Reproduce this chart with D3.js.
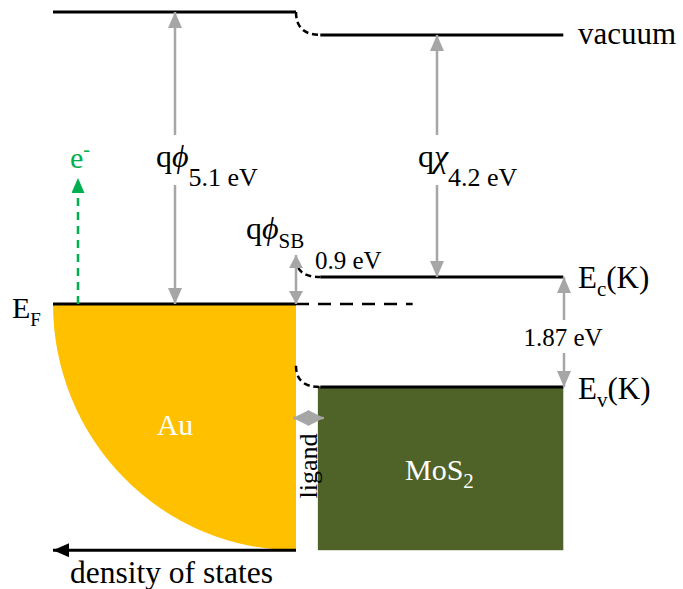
<!DOCTYPE html>
<html>
<head>
<meta charset="utf-8">
<script src="https://cdn.jsdelivr.net/npm/d3@7"></script>
<style>
  body { margin: 0; background: #fff; }
  text { font-family: "Liberation Serif", "Times New Roman", serif; }
</style>
</head>
<body>
<svg id="canvas"></svg>
<script>
const W = 683, H = 589

// energy levels (eV, relative to Au vacuum level; schematic)
const levelNames = ['vacAu', 'vacMoS2', 'bendEc', 'Ec', 'EF', 'bendEv', 'Ev', 'bottom']
const levelValues = [0, -0.4, -4.3, -4.63, -5.1, -6.18, -6.55, -9.4]
const gapLabels = ['5.1 eV', '4.2 eV', '0.9 eV', '1.87 eV']
const regionNames = ['Au', 'ligand', 'MoS2']
const regionEdges = [0, 1, 1.09, 2.1]

const E = Object.fromEntries(levelNames.map((n, i) => [n, levelValues[i]]))

const y = d3.scaleLinear().domain([0, -5.1]).range([12, 304])
const x = d3.scaleLinear().domain([0, 1]).range([53, 296])
const gray = '#a6a6a6', green = '#00b050'

const svg = d3.select('#canvas').attr('width', W).attr('height', H)

// arrow markers
const defs = svg.append('defs')
function marker(id, color, w, l) {
    defs.append('marker').attr('id', id)
        .attr('viewBox', `0 ${-w/2} ${l} ${w}`)
        .attr('refX', l).attr('refY', 0)
        .attr('markerWidth', l).attr('markerHeight', w)
        .attr('markerUnits', 'userSpaceOnUse')
        .attr('orient', 'auto-start-reverse')
        .append('path').attr('d', `M0,${-w/2}L${l},0L0,${w/2}Z`).attr('fill', color)
}
marker('ag', gray, 14, 16)
marker('agb', gray, 14, 13)
marker('agl', gray, 16, 16)
marker('agr', green, 13, 15)
marker('ab', 'black', 14, 16)

// Au density of states (quarter ellipse)
const cx = x(regionEdges[1]), cy = y(E.EF)
const rx = cx - x(0), ry = y(E.bottom) - cy
svg.append('path')
    .attr('d', `M${x(0)},${cy}L${cx},${cy}L${cx},${cy + ry}A${rx},${ry} 0 0 1 ${x(0)},${cy}Z`)
    .attr('fill', '#ffc000')

// MoS2 block
svg.append('rect')
    .attr('x', x(regionEdges[2])).attr('y', y(E.Ev))
    .attr('width', x(regionEdges[3]) - x(regionEdges[2]))
    .attr('height', y(E.bottom) - y(E.Ev))
    .attr('fill', '#4f6228')

// solid levels
const solid = [
    [x(0), x(1), y(E.vacAu)],
    [x(1.1), x(2.1), y(E.vacMoS2)],
    [x(0), x(1), y(E.EF)],
    [x(1.1), x(2.1), y(E.Ec)],
    [x(1.1), x(2.1), y(E.Ev)]
]
svg.selectAll('line.lvl').data(solid).enter().append('line').classed('lvl', true)
    .attr('x1', d => d[0]).attr('x2', d => d[1])
    .attr('y1', d => d[2]).attr('y2', d => d[2])
    .attr('stroke', 'black').attr('stroke-width', 3)

// band bending (dashed)
const bends = [
    [y(E.vacAu), y(E.vacMoS2)],
    [y(E.bendEc), y(E.Ec)],
    [y(E.bendEv), y(E.Ev)]
]
svg.selectAll('path.bend').data(bends).enter().append('path').classed('bend', true)
    .attr('d', d => `M${x(1)},${d[0]}Q${x(1)},${d[1]} ${x(1.1)},${d[1]}`)
    .attr('fill', 'none').attr('stroke', 'black').attr('stroke-width', 2.5)
    .attr('stroke-dasharray', '6,4')

// Fermi level continuation
svg.append('line')
    .attr('x1', x(1)).attr('x2', x(1.48))
    .attr('y1', y(E.EF)).attr('y2', y(E.EF))
    .attr('stroke', 'black').attr('stroke-width', 2.5).attr('stroke-dasharray', '13,9')

// gray arrows (split around labels when gap given)
function vArrow(xp, y1, y2, gap, m) {
    if (gap) {
        svg.append('line').attr('x1', xp).attr('x2', xp).attr('y1', gap[0]).attr('y2', y1)
            .attr('stroke', gray).attr('stroke-width', 2.5).attr('marker-end', `url(#${m})`)
        svg.append('line').attr('x1', xp).attr('x2', xp).attr('y1', gap[1]).attr('y2', y2)
            .attr('stroke', gray).attr('stroke-width', 2.5).attr('marker-end', `url(#${m})`)
    } else {
        svg.append('line').attr('x1', xp).attr('x2', xp).attr('y1', y1).attr('y2', y2)
            .attr('stroke', gray).attr('stroke-width', 2.5)
            .attr('marker-start', `url(#${m})`).attr('marker-end', `url(#${m})`)
    }
}
vArrow(175, y(E.vacAu), y(E.EF), [135, 185], 'ag')
vArrow(437, y(E.vacMoS2), y(E.Ec), [135, 185], 'ag')
vArrow(x(1), y(E.Ec) - 22, y(E.EF), null, 'agb')
vArrow(564, y(E.Ec), y(E.Ev), [320, 353], 'ag')

// ligand arrow
svg.append('line')
    .attr('x1', x(1) - 3).attr('x2', x(1.09) + 6).attr('y1', 418).attr('y2', 418)
    .attr('stroke', gray).attr('stroke-width', 2.5)
    .attr('marker-start', 'url(#agl)').attr('marker-end', 'url(#agl)')

// green electron arrow
svg.append('line')
    .attr('x1', 78).attr('x2', 78).attr('y1', y(E.EF)).attr('y2', 178)
    .attr('stroke', green).attr('stroke-width', 2.5).attr('stroke-dasharray', '8,6')
    .attr('marker-end', 'url(#agr)')

// density of states axis
svg.append('line')
    .attr('x1', x(1)).attr('x2', x(0)).attr('y1', y(E.bottom)).attr('y2', y(E.bottom))
    .attr('stroke', 'black').attr('stroke-width', 3).attr('marker-end', 'url(#ab)')

// labels
function label(px, py, parts, opts) {
    const o = opts || {}
    const t = svg.append('text').attr('x', px).attr('y', py)
        .attr('font-size', o.size || 28).attr('fill', o.fill || 'black')
        .attr('text-anchor', o.anchor || 'start')
    if (o.rotate) t.attr('transform', `rotate(${o.rotate},${px},${py})`)
    parts.forEach(p => {
        const s = t.append('tspan').text(p.t)
        if (p.italic) s.attr('font-style', 'italic')
        if (p.size) s.attr('font-size', p.size)
        if (p.dy) s.attr('dy', p.dy)
    })
    return t
}
label(578, 44, [{ t: 'vacuum' }], { size: 31 })
label(156, 167, [{ t: 'q' }, { t: 'ϕ', italic: true }, { t: gapLabels[0], size: 26, dy: 19 }], { size: 32 })
label(418, 167, [{ t: 'q' }, { t: 'χ', italic: true }, { t: gapLabels[1], size: 26, dy: 19 }], { size: 32 })
label(246, 239, [{ t: 'q' }, { t: 'ϕ', italic: true }, { t: 'SB', size: 21, dy: 9 }], { size: 32 })
label(315, 269, [{ t: gapLabels[2] }], { size: 25 })
label(563, 346, [{ t: gapLabels[3] }], { size: 25, anchor: 'middle' })
label(578, 288, [{ t: 'E' }, { t: 'c', size: 21, dy: 8 }, { t: '(K)', dy: -8 }], { size: 31 })
label(578, 399, [{ t: 'E' }, { t: 'v', size: 21, dy: 8 }, { t: '(K)', dy: -8 }], { size: 31 })
label(12, 318, [{ t: 'E' }, { t: 'F', size: 19, dy: 8 }], { size: 30 })
label(70, 168, [{ t: 'e' }, { t: '-', size: 20, dy: -12 }], { size: 30, fill: green })
label(175, 435, [{ t: regionNames[0] }], { size: 30, fill: 'white', anchor: 'middle' })
label(405, 480, [{ t: 'MoS' }, { t: '2', size: 21, dy: 8 }], { size: 30, fill: 'white' })
label(317, 466, [{ t: regionNames[1] }], { size: 26, anchor: 'middle', rotate: -90 })
label(70, 583, [{ t: 'density of states' }], { size: 31.5 })
</script>
</body>
</html>
